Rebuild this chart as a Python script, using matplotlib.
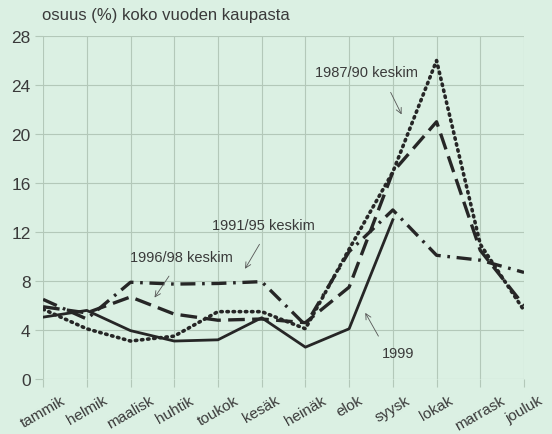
import matplotlib.pyplot as plt

months = ['tammik', 'helmik', 'maalisk', 'huhtik', 'toukok', 'kesäk',
          'heinäk', 'elok', 'syysk', 'lokak', 'marrask', 'jouluk']
yticks = [0, 4, 8, 12, 16, 20, 24, 28]

# osuus (%) koko vuoden kaupasta
avg_8790 = [5.7, 4.1, 3.1, 3.5, 5.5, 5.5, 4.1, 10.6, 16.9, 26.0, 11.0, 5.6]
avg_9195 = [6.5, 4.9, 7.9, 7.75, 7.8, 7.95, 4.4, 10.4, 13.8, 10.1, 9.7, 8.7]
avg_9698 = [5.9, 5.4, 6.7, 5.3, 4.8, 4.9, 4.6, 7.5, 16.9, 21.0, 10.5, 6.0]
y1999 = [5.05, 5.6, 3.95, 3.1, 3.2, 5.0, 2.6, 4.1, 13.0]

bg = '#dbf0e3'
grid_c = '#b3c8b9'
ink = '#262626'
txt = '#3a3a3a'
font = ['Liberation Sans Narrow', 'Liberation Sans', 'DejaVu Sans']
plt.rcParams['font.family'] = font

fig = plt.figure(figsize=(5.52, 4.35), dpi=100, facecolor=bg)
ax = fig.add_axes([0.078, 0.1264, 0.8713, 0.7885], facecolor=bg)

x = list(range(len(months)))
ax.plot(x, avg_8790, color=ink, lw=2.6, linestyle=(0, (0.4, 1.3)), dash_capstyle='round')
ax.plot(x, avg_9195, color=ink, lw=2.4, linestyle=(0, (4.5, 2, 0.8, 2)))
ax.plot(x, avg_9698, color=ink, lw=2.4, linestyle=(0, (5, 2.2)))
ax.plot(x[:len(y1999)], y1999, color=ink, lw=2.0, linestyle='-')

ax.set_xlim(0, 11)
ax.set_ylim(0, 28)
ax.set_xticks(x)
ax.set_xticklabels(months, rotation=30, ha='center', fontsize=11, color=txt)
ax.set_yticks(yticks)
ax.set_yticklabels([str(v) for v in yticks], fontsize=12.5, color=txt)
ax.tick_params(axis='both', length=6, width=0.8, color=grid_c, pad=3)
ax.tick_params(axis='x', pad=4)
ax.grid(True, color=grid_c, lw=0.8)
ax.set_axisbelow(True)
for s in ax.spines.values():
    s.set_visible(False)

fig.text(0.076, 0.965, 'osuus (%) koko vuoden kaupasta', fontsize=12,
         color=txt, ha='left', va='center')

arrow = dict(arrowstyle='->', color='#555555', lw=0.6, shrinkA=0, shrinkB=0)
ax.annotate('', xy=(8.2, 21.6), xytext=(7.95, 23.4), arrowprops=arrow)
ax.text(7.39, 25.1, '1987/90 keskim', fontsize=10.5, color=txt, ha='center', va='center')
ax.annotate('', xy=(4.62, 9.0), xytext=(4.95, 11.0), arrowprops=arrow)
ax.text(5.03, 12.6, '1991/95 keskim', fontsize=10.5, color=txt, ha='center', va='center')
ax.annotate('', xy=(2.55, 6.65), xytext=(2.88, 8.4), arrowprops=arrow)
ax.text(3.17, 10.0, '1996/98 keskim', fontsize=10.5, color=txt, ha='center', va='center')
ax.annotate('', xy=(7.37, 5.4), xytext=(7.67, 3.5), arrowprops=arrow)
ax.text(8.12, 2.1, '1999', fontsize=10.5, color=txt, ha='center', va='center')

fig.savefig('out.png', dpi=100, facecolor=bg)
